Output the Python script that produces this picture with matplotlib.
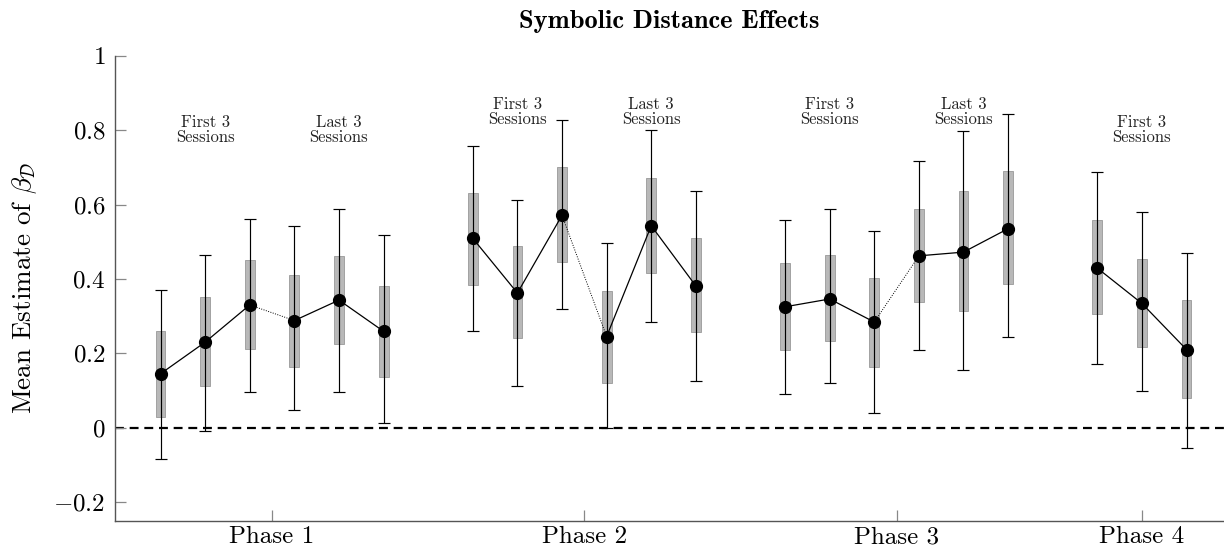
import numpy as np
import matplotlib.pyplot as plt

plt.rcParams['font.family'] = 'serif'
plt.rcParams['font.serif'] = ['cmr10']
plt.rcParams['mathtext.fontset'] = 'cm'
plt.rcParams['axes.formatter.use_mathtext'] = True

# ---------------- data ----------------
phases = ['Phase 1', 'Phase 2', 'Phase 3', 'Phase 4']
n_per_phase = [6, 6, 6, 3]

means = [0.145, 0.230, 0.330, 0.288, 0.343, 0.259,
         0.509, 0.362, 0.571, 0.245, 0.543, 0.381,
         0.325, 0.346, 0.284, 0.462, 0.472, 0.535,
         0.429, 0.334, 0.210]
box_lo = [0.029, 0.113, 0.212, 0.164, 0.224, 0.137,
          0.383, 0.242, 0.445, 0.121, 0.415, 0.256,
          0.210, 0.232, 0.164, 0.337, 0.313, 0.386,
          0.306, 0.217, 0.080]
box_hi = [0.261, 0.351, 0.451, 0.411, 0.462, 0.381,
          0.632, 0.488, 0.700, 0.367, 0.670, 0.510,
          0.442, 0.464, 0.402, 0.588, 0.635, 0.690,
          0.558, 0.453, 0.343]
ci_lo = [-0.084, -0.008, 0.096, 0.048, 0.097, 0.012,
         0.260, 0.111, 0.318, 0.000, 0.283, 0.126,
         0.091, 0.120, 0.039, 0.210, 0.155, 0.244,
         0.172, 0.098, -0.054]
ci_hi = [0.369, 0.464, 0.562, 0.543, 0.589, 0.518,
         0.758, 0.613, 0.826, 0.497, 0.799, 0.635,
         0.559, 0.588, 0.529, 0.718, 0.797, 0.843,
         0.688, 0.581, 0.469]

session_labels = ['First 3\nSessions', 'Last 3\nSessions']
label_heights = [0.80, 0.85, 0.85, 0.80]

# ---------------- layout ----------------
gap = 7
x = []
for p, n in enumerate(n_per_phase):
    x += [p * gap + i for i in range(n)]
x = np.array(x, dtype=float)
means = np.array(means)

fig = plt.figure(figsize=(12.24, 5.56), dpi=100)
ax = fig.add_axes([0.094, 0.0635, 0.906, 0.8363])

# zero reference line
ax.axhline(0, color='black', lw=1.6, ls=(0, (4, 2.6)), zorder=1)

# grey boxes
ax.bar(x, np.array(box_hi) - np.array(box_lo), bottom=box_lo, width=0.22,
       color='#b8b8b8', edgecolor='#999999', linewidth=0.6, zorder=2)

# whiskers
ax.errorbar(x, means, yerr=[means - np.array(ci_lo), np.array(ci_hi) - means],
            fmt='none', ecolor='black', elinewidth=0.85, capsize=4, capthick=0.85,
            zorder=3)

# connecting lines: solid within each block of 3, dotted between blocks
start = 0
for n in n_per_phase:
    for b in range(0, n, 3):
        idx = slice(start + b, start + b + 3)
        ax.plot(x[idx], means[idx], color='black', lw=0.9, zorder=4)
        if b + 3 < n:
            j = start + b + 2
            ax.plot(x[j:j + 2], means[j:j + 2], color='black', lw=0.7,
                    ls=(0, (1, 1.5)), zorder=4)
    start += n

ax.plot(x, means, 'o', color='black', ms=8.5, zorder=5)

# session annotations
start = 0
for p, n in enumerate(n_per_phase):
    for b in range(0, n, 3):
        ax.text(x[start + b + 1], label_heights[p], session_labels[b // 3],
                ha='center', va='center', fontsize=12, linespacing=0.95,
                color='#222222')
    start += n

# axes styling
ax.set_xlim(-1.02, 23.84)
ax.set_ylim(-0.25, 1.0)
phase_centers = []
start = 0
for n in n_per_phase:
    phase_centers.append(x[start:start + n].mean())
    start += n
ax.set_xticks(phase_centers)
ax.set_xticklabels(phases, fontsize=18)
yt = [-0.2, 0, 0.2, 0.4, 0.6, 0.8, 1]
ax.set_yticks(yt)
ax.set_yticklabels(['$-0.2$', '$0$', '$0.2$', '$0.4$', '$0.6$', '$0.8$', '$1$'],
                   fontsize=18)
ax.tick_params(direction='in', length=8, width=0.9, color='#888888', pad=7)
ax.tick_params(axis='x', pad=4)
for s in ['top', 'right']:
    ax.spines[s].set_visible(False)
for s in ['left', 'bottom']:
    ax.spines[s].set_color('#555555')
    ax.spines[s].set_linewidth(1.0)

ax.set_ylabel(r'Mean Estimate of $\beta_{\mathcal{D}}$', fontsize=19.5, labelpad=10)
ax.set_title('Symbolic Distance Effects', fontsize=19, family='cmb10', pad=20)

fig.savefig('out.png', dpi=100)
